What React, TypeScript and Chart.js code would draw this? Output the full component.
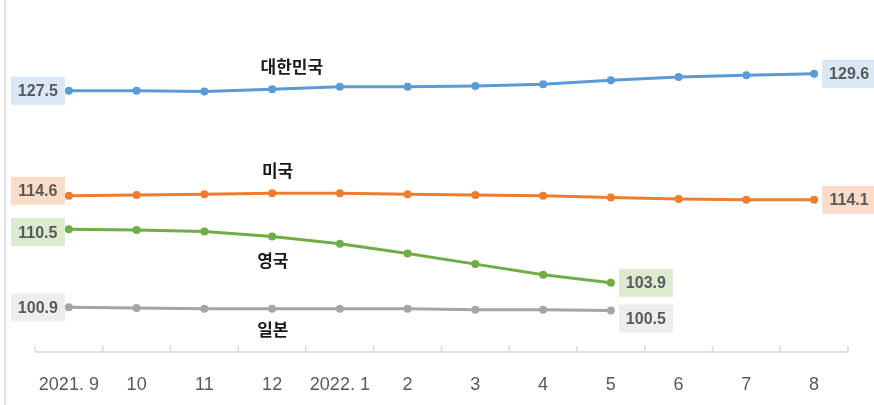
import React, { useEffect, useRef } from "react";
import { Chart, registerables } from "chart.js";

Chart.register(...registerables);

const categories = ["2021. 9", "10", "11", "12", "2022. 1", "2", "3", "4", "5", "6", "7", "8"];
const seriesNames = ["대한민국", "미국", "영국", "일본"];
const korea = [127.5, 127.5, 127.4, 127.7, 128.0, 128.0, 128.1, 128.3, 128.8, 129.2, 129.4, 129.6];
const usa = [114.6, 114.7, 114.8, 114.9, 114.9, 114.8, 114.7, 114.6, 114.4, 114.2, 114.1, 114.1];
const uk = [110.5, 110.4, 110.2, 109.6, 108.7, 107.5, 106.2, 104.9, 103.9];
const japan = [100.9, 100.8, 100.7, 100.7, 100.7, 100.7, 100.6, 100.6, 100.5];

const lineColors = ["#5B9BD5", "#ED7D31", "#70AD47", "#A5A5A5"];
const boxColors = ["#DAE7F5", "#FBDCC9", "#DCEBD0", "#EDEDED"];
// name label anchor positions (category index, value)
const nameAnchors = [
  [3.29, 130.5],
  [3.08, 117.7],
  [3.01, 106.7],
  [3.01, 98.1],
];
// vertical offsets of value boxes [left, right]
const boxOffsets = [
  [0, 0],
  [-5, 0],
  [3, 0],
  [0, 8],
];

const decorPlugin = {
  id: "decor",
  beforeDatasetsDraw(chart: any) {
    const ctx = chart.ctx;
    const { left, right, bottom } = chart.chartArea;
    const xs = chart.scales.x;
    ctx.save();
    ctx.strokeStyle = "#D9D9D9";
    ctx.lineWidth = 1.5;
    ctx.beginPath();
    ctx.moveTo(5, 0);
    ctx.lineTo(5, chart.height);
    ctx.stroke();
    ctx.beginPath();
    ctx.moveTo(left, bottom);
    ctx.lineTo(right, bottom);
    ctx.stroke();
    for (let i = 0; i <= categories.length; i++) {
      const x = xs.getPixelForValue(i - 0.5);
      ctx.beginPath();
      ctx.moveTo(x, bottom);
      ctx.lineTo(x, bottom - 6);
      ctx.stroke();
    }
    ctx.restore();
  },
  afterDatasetsDraw(chart: any) {
    const ctx = chart.ctx;
    const xs = chart.scales.x;
    const ys = chart.scales.y;
    ctx.save();
    ctx.textAlign = "center";
    ctx.textBaseline = "middle";
    chart.data.datasets.forEach((ds: any, i: number) => {
      const meta = chart.getDatasetMeta(i);
      const pts = meta.data;
      const first = pts[0];
      const last = pts[pts.length - 1];
      const w = 54;
      const h = 28;
      const boxes = [
        { x: first.x - 4 - w, y: first.y + boxOffsets[i][0], v: ds.data[0] },
        { x: last.x + 8, y: last.y + boxOffsets[i][1], v: ds.data[ds.data.length - 1] },
      ];
      boxes.forEach((b) => {
        ctx.fillStyle = boxColors[i];
        ctx.fillRect(b.x, b.y - h / 2, w, h);
        ctx.fillStyle = "#595959";
        ctx.font = "bold 16px 'Liberation Sans', Arial, sans-serif";
        ctx.fillText(b.v.toFixed(1), b.x + w / 2, b.y + 1);
      });
      const [ci, cv] = nameAnchors[i];
      ctx.fillStyle = "#1a1a1a";
      ctx.font = "bold 17px 'Noto Sans CJK KR', sans-serif";
      ctx.fillText(seriesNames[i], xs.getPixelForValue(ci), ys.getPixelForValue(cv));
    });
    ctx.restore();
  },
};

export default function App() {
  const ref = useRef<HTMLCanvasElement>(null);
  useEffect(() => {
    if (!ref.current) return;
    const series = [korea, usa, uk, japan];
    const chart = new Chart(ref.current, {
      type: "line",
      data: {
        labels: categories,
        datasets: series.map((d, i) => ({
          label: seriesNames[i],
          data: d,
          borderColor: lineColors[i],
          backgroundColor: lineColors[i],
          borderWidth: 3,
          pointRadius: 4,
          pointBorderWidth: 0,
          pointBackgroundColor: lineColors[i],
          tension: 0,
        })),
      },
      options: {
        animation: false,
        responsive: false,
        layout: { padding: { left: 35, right: 26, top: 20, bottom: 10 } },
        plugins: { legend: { display: false }, tooltip: { enabled: false } },
        scales: {
          x: {
            offset: true,
            grid: { display: false, drawTicks: false },
            border: { display: false },
            afterFit: (s: any) => {
              s.height = 43;
            },
            ticks: {
              padding: 22,
              color: "#595959",
              font: { size: 18, family: "'Liberation Sans Narrow', 'Liberation Sans', Arial, sans-serif" },
              maxRotation: 0,
              autoSkip: false,
            },
          },
          y: { display: false, min: 95.4, max: 136.2 },
        },
      },
      plugins: [decorPlugin],
    });
    return () => chart.destroy();
  }, []);
  return (
    <div style={{ position: "fixed", left: 0, top: 0, width: 874, height: 405, background: "#fff" }}>
      <canvas ref={ref} width={874} height={405} style={{ display: "block" }} />
    </div>
  );
}
